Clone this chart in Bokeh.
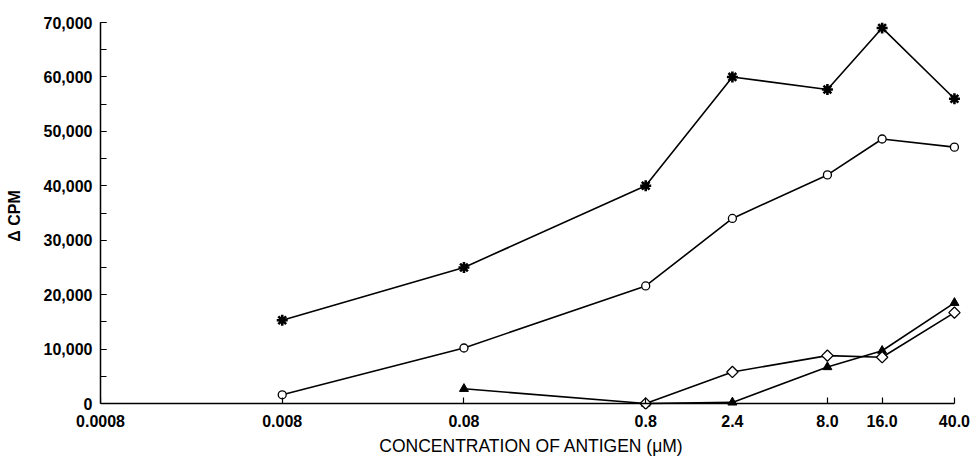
import math
from bokeh.plotting import figure
from bokeh.models import (FixedTicker, NumeralTickFormatter, SingleIntervalTicker, Range1d,
                          LogAxis, CustomLabelingPolicy)
from bokeh.embed import file_html
from bokeh.resources import INLINE

# ---- data ----
tick_values = [0.0008, 0.008, 0.08, 0.8, 2.4, 8.0, 16.0, 40.0]
tick_labels = ["0.0008", "0.008", "0.08", "0.8", "2.4", "8.0", "16.0", "40.0"]

star_x = [0.008, 0.08, 0.8, 2.4, 8.0, 16.0, 40.0]
star_y = [15300, 25000, 40000, 60000, 57700, 69000, 56000]

circle_x = [0.008, 0.08, 0.8, 2.4, 8.0, 16.0, 40.0]
circle_y = [1600, 10200, 21600, 34000, 42000, 48600, 47100]

triangle_x = [0.08, 0.8, 2.4, 8.0, 16.0, 40.0]
triangle_y = [2700, 0, 200, 6700, 9700, 18500]

diamond_x = [0.8, 2.4, 8.0, 16.0, 40.0]
diamond_y = [0, 5800, 8800, 8500, 16700]

FONT = "Liberation Sans"

p = figure(width=971, height=459, x_axis_type="log",
           x_range=Range1d(0.0008, 44.3), y_range=Range1d(-1100, 70000),
           output_backend="svg", toolbar_location=None,
           min_border_left=100, min_border_right=9, min_border_top=22, min_border_bottom=50)

p.outline_line_color = None
p.xgrid.grid_line_color = None
p.ygrid.grid_line_color = None
p.background_fill_color = "white"
p.border_fill_color = "white"

# x axis: labels and title (at frame bottom)
xa = p.xaxis[0]
xa.ticker = FixedTicker(ticks=tick_values, minor_ticks=[])
xa.major_label_overrides = {v: l for v, l in zip(tick_values, tick_labels)}
xa.axis_line_color = None
xa.major_tick_line_color = None
xa.minor_tick_line_color = None
xa.major_tick_in = 0
xa.major_tick_out = 0
xa.axis_label = "CONCENTRATION OF ANTIGEN (\u03bcM)"
xa.axis_label_text_font = FONT
xa.axis_label_text_font_style = "normal"
xa.axis_label_text_font_size = "17.5px"
xa.axis_label_text_color = "black"
xa.axis_label_standoff = 6
xa.major_label_text_font = FONT
xa.major_label_text_font_style = "bold"
xa.major_label_text_font_size = "16px"
xa.major_label_text_color = "black"
xa.major_label_standoff = 5

# x axis line and ticks at y = 0 (no labels of its own)
no_labels = CustomLabelingPolicy(code="""
const n = indices.size
for (let i = 0; i < n; i++) indices.unset(i)
return indices
""")
x0 = LogAxis(ticker=FixedTicker(ticks=tick_values, minor_ticks=[]),
             fixed_location=0, bounds=(tick_values[0], tick_values[-1]),
             major_label_policy=no_labels, major_label_standoff=0,
             major_label_text_font_size="10px",
             major_tick_in=6, major_tick_out=0, minor_tick_in=0, minor_tick_out=0,
             axis_line_width=1.5, major_tick_line_width=1.2, axis_line_color="black")
p.add_layout(x0, "below")

# y axis
ya = p.yaxis[0]
ya.ticker = SingleIntervalTicker(interval=10000, num_minor_ticks=2)
ya.formatter = NumeralTickFormatter(format="0,0")
ya.bounds = (0, 70000)
ya.axis_label = "\u0394 CPM"
ya.axis_label_text_font = FONT
ya.axis_label_text_font_style = "bold"
ya.axis_label_text_font_size = "16px"
ya.axis_label_text_color = "black"
ya.axis_label_standoff = 18
ya.major_label_text_font = FONT
ya.major_label_text_font_style = "bold"
ya.major_label_text_font_size = "16px"
ya.major_label_text_color = "black"
ya.major_label_standoff = 8
ya.major_tick_in = 6
ya.major_tick_out = 0
ya.minor_tick_in = 6
ya.minor_tick_out = 0
ya.axis_line_width = 1.5
ya.major_tick_line_width = 1.2
ya.minor_tick_line_width = 1.2

LW = 1.6
p.line(star_x, star_y, line_color="black", line_width=LW)
p.scatter(star_x, star_y, marker="asterisk", size=11, line_color="black", line_width=2.6)

p.line(circle_x, circle_y, line_color="black", line_width=LW)
p.scatter(circle_x, circle_y, marker="circle", size=8, fill_color="white", line_color="black", line_width=1.3)

p.line(triangle_x, triangle_y, line_color="black", line_width=LW)
p.scatter(triangle_x, triangle_y, marker="triangle", size=9, fill_color="black", line_color="black")

p.line(diamond_x, diamond_y, line_color="black", line_width=LW)
p.scatter(diamond_x, diamond_y, marker="square", angle=math.pi / 4, size=8,
          fill_color="white", line_color="black", line_width=1.3)

open("out.html", "w").write(file_html(p, INLINE))
